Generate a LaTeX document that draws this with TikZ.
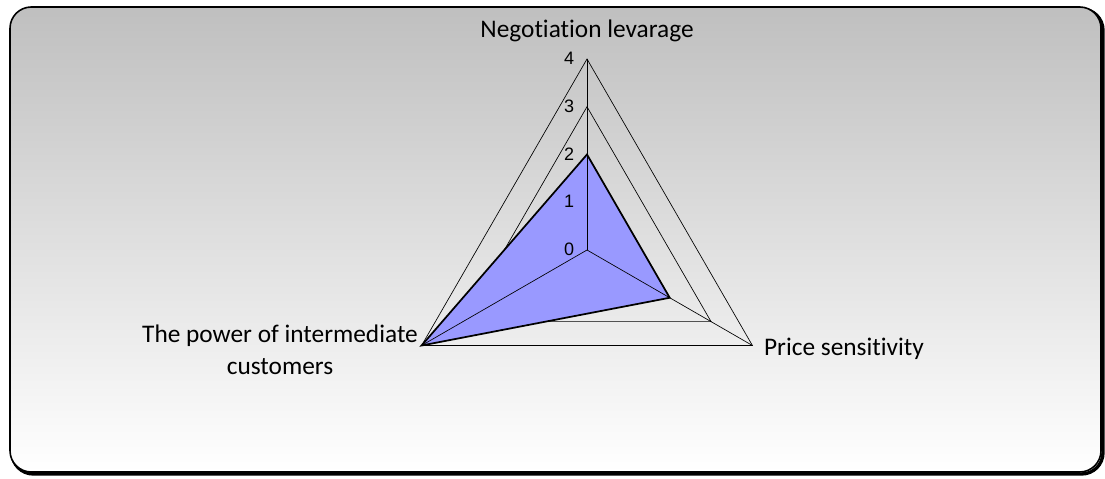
\documentclass[tikz,border=0pt]{standalone}
\usepackage{fontspec}
\setmainfont{Carlito}[Ligatures=NoCommon]
\newfontfamily\numfont{Liberation Sans}
\usepackage{tikz}

\tikzset{
  grid/.style={draw=black, line width=0.5pt},
  series/.style={draw=black, line width=1.3pt, fill={rgb,255:red,153;green,153;blue,255}},
  tick/.style={font=\numfont\fontsize{13.5}{16}\selectfont, inner sep=0pt},
  axislabel/.style={font=\fontsize{19}{24}\selectfont, inner sep=0pt, align=center}
}

\begin{document}
\begin{tikzpicture}[x=0.75pt,y=0.75pt]
\useasboundingbox (0,0) rectangle (1105,478);
% chart area
\draw[black, line width=2.5pt, rounded corners=16] (12,4) rectangle (1103,469);
\shade[top color=gray!50, bottom color=white, draw=black, line width=1.2pt, rounded corners=16] (10,6) rectangle (1101,471);

\begin{scope}[shift={(587,228)}]
\coordinate (c) at (0,0);
\coordinate (n1) at (90:47.75);
\coordinate (n2) at (90:95.5);
\coordinate (n3) at (90:143.25);
\coordinate (n4) at (90:191);
\coordinate (p1) at (330:47.75);
\coordinate (p2) at (330:95.5);
\coordinate (p3) at (330:143.25);
\coordinate (p4) at (330:191);
\coordinate (w1) at (210:47.75);
\coordinate (w2) at (210:95.5);
\coordinate (w3) at (210:143.25);
\coordinate (w4) at (210:191);

% rings
\draw[grid] (n1)--(p1)--(w1)--cycle;
\draw[grid] (n2)--(p2)--(w2)--cycle;
\draw[grid] (n3)--(p3)--(w3)--cycle;
\draw[grid] (n4)--(p4)--(w4)--cycle;

% data
\draw[series] (n2)--(p2)--(w4)--cycle;

% spokes
\draw[grid] (c)--(n4);
\draw[grid] (c)--(p4);
\draw[grid] (c)--(w4);

% scale
\node[tick] (t0) at (-18,1) {0};
\node[tick] (t1) at (-18,49) {1};
\node[tick] (t2) at (-18,96) {2};
\node[tick] (t3) at (-18,144) {3};
\node[tick] (t4) at (-18,192) {4};

% axes
\node[axislabel, anchor=base] (neg) at (0,212) {Negotiation levarage};
\node[axislabel, anchor=base] (price) at (257,-106) {Price sensitivity};
\node[axislabel] (power) at (-307,-100) {The power of intermediate\\customers};
\end{scope}
\end{tikzpicture}
\end{document}
